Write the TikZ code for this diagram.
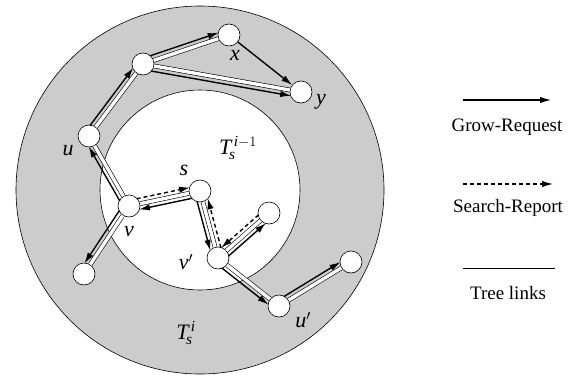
\documentclass[tikz,border=0pt]{standalone}
\usepackage{fontspec}
\setmainfont{Liberation Serif}
\usetikzlibrary{arrows.meta,calc}
\definecolor{ringgray}{gray}{0.8}
\tikzset{
  vertex/.style={circle, draw, fill=white, line width=0.6pt, minimum size=22pt, inner sep=0pt},
  treelink/.style={draw=black, line width=0.6pt, double=white, double distance=3.4pt},
  growmsg/.style={line width=1.4pt, -{Latex[length=11pt,width=6.5pt]}},
  searchmsg/.style={growmsg, dash pattern=on 4pt off 3pt},
  lbl/.style={font=\fontsize{22}{24}\selectfont},
  legend/.style={font=\fontsize{19}{21}\selectfont},
}
\begin{document}
\begin{tikzpicture}[x=1pt, y=-1pt]
  \useasboundingbox (0,0) rectangle (572,375);
  % Trees
  \draw[fill=ringgray, line width=0.6pt] (200,190) circle[radius=184pt];
  \draw[fill=white, line width=0.6pt] (200,190) circle[radius=100pt];
  \node[lbl] (Ti) at (186,333) {$\mathit{T}_{\!\mathit{s}}^{\,\mathit{i}}$};
  \node[lbl] (Tprev) at (238,148) {$\mathit{T}_{\!\mathit{s}}^{\,\mathit{i}-1}$};

  % Vertices
  \node[vertex] (u) at (89,136) {};
  \node[vertex] (w) at (143,64) {};
  \node[vertex] (x) at (229,35) {};
  \node[vertex] (y) at (301,92) {};
  \node[vertex] (v) at (129,206) {};
  \node[vertex] (s) at (200,191) {};
  \node[vertex] (vp) at (218,258) {};
  \node[vertex] (r) at (269,213) {};
  \node[vertex] (bl) at (84,274) {};
  \node[vertex] (up) at (279,306) {};
  \node[vertex] (rr) at (351,262) {};

  \node[lbl] (xl) at (235,55) {$\mathit{x}$};
  \node[lbl] (yl) at (321,102) {$\mathit{y}$};
  \node[lbl] (ul) at (68,151) {$\mathit{u}$};
  \node[lbl] (sl) at (184,170) {$\mathit{s}$};
  \node[lbl] (vl) at (129,232) {$\mathit{v}$};
  \node[lbl] (vpl) at (186,262) {$\mathit{v}'$};
  \node[lbl] (upl) at (303,320) {$\mathit{u}'$};

  % Tree links
  \foreach \a/\b in {u/w, w/x, w/y, u/v, v/bl, v/s, s/vp, vp/r, vp/up, up/rr} {
    \draw[treelink] (\a) -- (\b);
  }

  % Messages
  \foreach \a/\b/\side in {u/w/90, w/x/90, w/y/-90, v/u/90, v/bl/-90, s/v/90,
                           s/vp/-90, vp/r/-90, vp/up/-90, up/rr/90} {
    \draw[growmsg, shorten <=9pt, shorten >=9pt]
      ($(\a.center)!5.5pt!\side:(\b.center)$) -- ($(\b.center)!5.5pt!-\side:(\a.center)$);
  }
  \foreach \a/\b/\side in {v/s/90, vp/s/-90, r/vp/-90} {
    \draw[searchmsg, shorten <=9pt, shorten >=9pt]
      ($(\a.center)!5.5pt!\side:(\b.center)$) -- ($(\b.center)!5.5pt!-\side:(\a.center)$);
  }
  \draw[growmsg] (x) -- (y);

  % Legend
  \coordinate (gs) at (463,100);
  \coordinate (ge) at (551,100);
  \draw[growmsg] (gs) -- (ge);
  \node[legend] (gtext) at (507,127) {Grow-Request};
  \coordinate (ss) at (463,184);
  \coordinate (se) at (553,184);
  \draw[searchmsg] (ss) -- (se);
  \node[legend] (stext) at (508,208) {Search-Report};
  \coordinate (ts) at (463,268);
  \coordinate (te) at (555,268);
  \draw[line width=0.6pt] (ts) -- (te);
  \node[legend] (ttext) at (508,293) {Tree links};
\end{tikzpicture}
\end{document}
